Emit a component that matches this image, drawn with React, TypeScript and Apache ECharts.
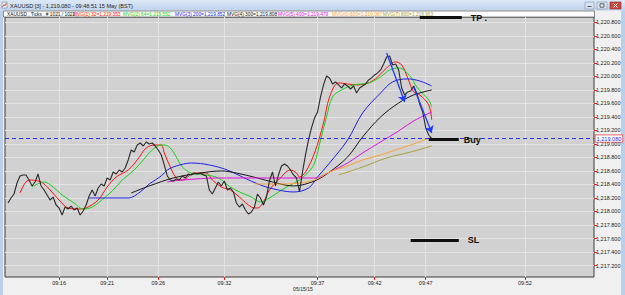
import { useEffect, useRef } from "react";
import * as echarts from "echarts";

// ---------- data ----------
const N_SLOTS = 197; // tick slots across the visible window
const tickSlots = [18, 34, 51, 73, 104, 123, 140, 173];
const tickLabels = ["09:16", "09:21", "09:26", "09:32", "09:37", "09:42", "09:47", "09:52"];
const dateLabel = "05/15/15";
const yTicks = [1217.2, 1217.4, 1217.6, 1217.8, 1218.0, 1218.2, 1218.4, 1218.6, 1218.8, 1219.0, 1219.2, 1219.4, 1219.6, 1219.8, 1220.0, 1220.2, 1220.4, 1220.6, 1220.8];
const yMin = 1217.03;
const yMax = 1220.88;

const titleText = "XAUUSD [3] - 1,219.080 - 09:48:51 15 May (BST)";
const headerLabels = [
  "XAUUSD , Ticks , # 1021 / 1022 ,",
  "MVG(1) 32=1,219.353",
  "MVG(2) 64=1,219.552",
  "MVG(3) 200=1,219.852",
  "MVG(4) 300=1,219.808",
  "MVG(5) 400=1,219.479",
  "MVG(6) 600=1,219.087",
  "MVG(7) 800=1,218.963",
];

const priceStart = 1;
const prices = [
  1218.126, 1218.200, 1218.259, 1218.422, 1218.526, 1218.541, 1218.541, 1218.466, 1218.378, 1218.437,
  1218.555, 1218.378, 1218.318, 1218.244, 1218.170, 1218.214, 1218.096, 1218.052, 1217.948, 1218.066,
  1218.037, 1218.081, 1218.022, 1218.052, 1217.948, 1218.007, 1218.096, 1218.229, 1218.318, 1218.229,
  1218.348, 1218.407, 1218.378, 1218.496, 1218.466, 1218.585, 1218.555, 1218.614, 1218.585, 1218.644,
  1218.763, 1218.911, 1218.881, 1218.985, 1219.014, 1218.970, 1219.029, 1219.000, 1219.014, 1218.970,
  1218.911, 1218.837, 1218.689, 1218.526, 1218.466, 1218.452, 1218.481, 1218.466, 1218.526, 1218.496,
  1218.555, 1218.541, 1218.570, 1218.555, 1218.570, 1218.541, 1218.526, 1218.318, 1218.259, 1218.348,
  1218.437, 1218.378, 1218.452, 1218.318, 1218.348, 1218.289, 1218.126, 1218.066, 1218.111, 1218.022,
  1217.963, 1217.992, 1218.066, 1218.259, 1218.200, 1218.096, 1218.214, 1218.452, 1218.585, 1218.378,
  1218.541, 1218.674, 1218.703, 1218.674, 1218.614, 1218.541, 1218.496, 1218.289, 1218.585, 1218.837,
  1219.059, 1219.237, 1219.385, 1219.474, 1219.696, 1219.874, 1220.007, 1219.978, 1219.889, 1219.918,
  1219.874, 1219.829, 1219.889, 1219.859, 1219.814, 1219.859, 1219.755, 1219.829, 1219.859, 1219.889,
  1219.948, 1219.978, 1220.022, 1220.052, 1220.096, 1220.185, 1220.289, 1220.303, 1220.170, 1220.185,
  1220.096, 1219.829, 1219.726, 1219.770, 1219.785, 1219.859, 1219.755, 1219.592, 1219.474, 1219.237,
  1219.133, 1219.080,
];

const ma32 = [
  [5, 1218.274], [8, 1218.466], [12, 1218.437], [15, 1218.318], [18, 1218.170], [21, 1218.052],
  [25, 1218.037], [27, 1218.052], [31, 1218.170], [34, 1218.363], [37, 1218.511], [41, 1218.614],
  [44, 1218.763], [47, 1218.941], [50, 1218.985], [52, 1218.985], [53, 1218.866], [55, 1218.659],
  [57, 1218.496], [59, 1218.466], [63, 1218.570], [67, 1218.570], [69, 1218.466], [72, 1218.363],
  [75, 1218.318], [78, 1218.214], [82, 1218.066], [84, 1218.052], [86, 1218.141], [88, 1218.318],
  [91, 1218.466], [95, 1218.614], [97, 1218.570], [98, 1218.511], [100, 1218.585], [103, 1218.866],
  [106, 1219.311], [108, 1219.696], [111, 1219.904], [114, 1219.889], [117, 1219.874], [121, 1219.904], [124, 1219.993],
  [127, 1220.126], [130, 1220.215], [132, 1220.170], [134, 1219.978], [136, 1219.770], [138, 1219.726],
  [141, 1219.578], [142, 1219.356],
];
const ma64 = [
  [9, 1218.363], [13, 1218.437], [16, 1218.363], [19, 1218.244], [23, 1218.126], [26, 1218.037],
  [29, 1218.066], [33, 1218.200], [36, 1218.318], [39, 1218.466], [43, 1218.614], [46, 1218.763],
  [49, 1218.911], [52, 1218.985], [53, 1218.985], [55, 1218.941], [57, 1218.807], [59, 1218.659],
  [62, 1218.570], [67, 1218.541], [71, 1218.496], [75, 1218.363], [78, 1218.289], [82, 1218.214],
  [85, 1218.141], [88, 1218.200], [92, 1218.318], [95, 1218.392], [98, 1218.466], [101, 1218.585],
  [103, 1218.718], [105, 1219.059], [107, 1219.400], [109, 1219.696], [112, 1219.800], [116, 1219.874],
  [121, 1219.904], [125, 1219.993], [128, 1220.096], [131, 1220.126], [135, 1219.993], [137, 1219.844],
  [141, 1219.652], [142, 1219.548],
];
const ma200 = [
  [28, 1218.200], [41, 1218.200], [45, 1218.289], [48, 1218.407], [52, 1218.526], [54, 1218.614],
  [57, 1218.674], [62, 1218.718], [68, 1218.689], [74, 1218.614], [79, 1218.511], [85, 1218.392],
  [91, 1218.318], [96, 1218.289], [101, 1218.348], [104, 1218.511], [108, 1218.718], [114, 1219.059],
  [119, 1219.459], [125, 1219.755], [129, 1219.919], [134, 1219.963], [138, 1219.933], [142, 1219.859],
];
const ma300 = [
  [42, 1218.274], [48, 1218.378], [56, 1218.496], [65, 1218.570], [72, 1218.600], [77, 1218.570],
  [84, 1218.496], [89, 1218.437], [96, 1218.378], [103, 1218.452], [108, 1218.585], [114, 1218.807],
  [119, 1219.104], [125, 1219.400], [131, 1219.607], [136, 1219.726], [142, 1219.800],
];
const ma400 = [
  [54, 1218.437], [59, 1218.466], [71, 1218.496], [82, 1218.496], [92, 1218.496], [103, 1218.496],
  [108, 1218.585], [114, 1218.718], [119, 1218.867], [125, 1219.030], [131, 1219.193], [136, 1219.341],
  [142, 1219.474],
];
const ma600 = [
  [83, 1218.407], [92, 1218.407], [98, 1218.422], [103, 1218.466], [108, 1218.585], [114, 1218.674],
  [119, 1218.763], [125, 1218.837], [131, 1218.926], [136, 1219.000], [142, 1219.104],
];
const ma800 = [
  [111, 1218.541], [119, 1218.659], [127, 1218.793], [135, 1218.881], [142, 1218.970],
];

const currentPrice = 1219.08;
const tradeLevels = [
  { name: "TP .", price: 1220.87, from: 138, to: 152 },
  { name: "Buy", price: 1219.065, from: 141, to: 151 },
  { name: "SL", price: 1217.578, from: 135, to: 151 },
];
const arrowSegments = [
  [[127, 1220.348], [133, 1219.622]],
  [[136, 1219.844], [142, 1219.163]],
];

// ---------- styling ----------
const FONT = "'Liberation Sans', Arial, sans-serif";
const maColors = ["#ff1010", "#18d018", "#1f1fe6", "#161616", "#e010e0", "#ffa030", "#a8a038"];
const headerColors = ["#111111", ...maColors];
const headerX = [7, 73, 123, 175, 227, 278, 332, 383];

const fmtPrice = (v: number) => {
  const s = v.toFixed(3);
  return s.slice(0, s.length - 7) + "," + s.slice(s.length - 7);
};

function buildOption() {
  const categories = Array.from({ length: N_SLOTS }, (_, i) => String(i));
  const isTick = (idx: number) => tickSlots.indexOf(idx) >= 0;
  const maSets = [ma32, ma64, ma200, ma300, ma400, ma600, ma800];

  const maSeries = maSets.map((d, k) => ({
    type: "line",
    data: d,
    smooth: 0.35,
    showSymbol: false,
    symbol: "none",
    lineStyle: { color: maColors[k], width: 1 },
    z: 3,
  }));

  const graphic: any[] = [
    {
      type: "rect",
      shape: { x: 0, y: 0, width: 625, height: 10.5 },
      style: {
        fill: new echarts.graphic.LinearGradient(0, 0, 0, 1, [
          { offset: 0, color: "#dde8f6" },
          { offset: 1, color: "#bfd3ec" },
        ]),
      },
      silent: true,
    },
    { type: "rect", shape: { x: 0, y: 10.5, width: 3, height: 284.5 }, style: { fill: "#b9cfea" }, silent: true },
    { type: "rect", shape: { x: 621, y: 10.5, width: 4, height: 284.5 }, style: { fill: "#b9cfea" }, silent: true },
    { type: "rect", shape: { x: 2, y: 2, width: 5, height: 6 }, style: { fill: "#f4f4f4", stroke: "#6a7d96", lineWidth: 0.6 }, silent: true },
    { type: "polyline", shape: { points: [[2.5, 7], [4, 4.5], [5, 6], [6.5, 3]] }, style: { stroke: "#cc2222", lineWidth: 0.7, fill: "none" }, silent: true },
    {
      type: "text",
      x: 10, y: 5.5, scaleX: 0.9,
      style: { text: titleText, fontSize: 6.2, fontFamily: FONT, fill: "#1c1c1c", verticalAlign: "middle" },
      silent: true,
    },
    { type: "rect", shape: { x: 585, y: 2, width: 9, height: 7 }, style: { fill: "#d9e3ef", stroke: "#7f91ab", lineWidth: 0.6 }, silent: true },
    { type: "rect", shape: { x: 597, y: 2, width: 10, height: 7 }, style: { fill: "#d9e3ef", stroke: "#7f91ab", lineWidth: 0.6 }, silent: true },
    { type: "rect", shape: { x: 610, y: 2, width: 11, height: 7 }, style: { fill: "#c94a40", stroke: "#8a2a22", lineWidth: 0.6 }, silent: true },
    { type: "line", shape: { x1: 587.5, y1: 6.5, x2: 591.5, y2: 6.5 }, style: { stroke: "#333", lineWidth: 0.8 }, silent: true },
    { type: "rect", shape: { x: 600, y: 3.8, width: 4, height: 3.4 }, style: { fill: "none", stroke: "#333", lineWidth: 0.7 }, silent: true },
    { type: "line", shape: { x1: 613.5, y1: 3.5, x2: 617.5, y2: 7.5 }, style: { stroke: "#fff", lineWidth: 0.9 }, silent: true },
    { type: "line", shape: { x1: 617.5, y1: 3.5, x2: 613.5, y2: 7.5 }, style: { stroke: "#fff", lineWidth: 0.9 }, silent: true },
    { type: "rect", shape: { x: 3.5, y: 11, width: 591, height: 6 }, style: { fill: "#fdfdfd", stroke: "#444", lineWidth: 0.6 }, silent: true },
    ...headerLabels.map((t, k) => ({
      type: "text",
      x: headerX[k], y: 14.2, scaleX: 0.8,
      style: { text: t, fontSize: 6, fontFamily: FONT, fill: headerColors[k], verticalAlign: "middle" },
      silent: true,
    })),
    {
      type: "text",
      x: 303, y: 289, scaleX: 0.85,
      style: { text: dateLabel, fontSize: 6, fontFamily: FONT, fill: "#222", align: "center", verticalAlign: "middle" },
      silent: true,
    },
  ];

  const markSeries = {
    type: "line",
    data: [],
    z: 5,
    markLine: {
      silent: true,
      animation: false,
      symbol: "none",
      data: [
        [
          { coord: [0, currentPrice] },
          {
            coord: [N_SLOTS - 1, currentPrice],
            label: {
              show: true,
              position: "end",
              formatter: fmtPrice(currentPrice),
              color: "#2a2aff",
              fontSize: 5.6,
              fontFamily: FONT,
              backgroundColor: "#ffffff",
              borderColor: "#e04040",
              borderWidth: 0.8,
              padding: [0.5, 1, 0, 1],
              distance: 1.5,
            },
          },
        ],
        ...tradeLevels.map((t) => [
          { coord: [t.from, t.price] },
          {
            coord: [t.to, t.price],
            lineStyle: { color: "#0e0e0e", width: 3, type: "solid" },
            label: {
              show: true,
              position: "end",
              formatter: t.name,
              color: "#0e0e0e",
              fontSize: 9,
              fontWeight: "bold",
              fontFamily: FONT,
              distance: t.name === "Buy" ? 5 : 9,
            },
          },
        ]),
        ...arrowSegments.map((seg) => [
          { coord: seg[0], symbol: "none" },
          {
            coord: seg[1],
            symbol: "arrow",
            symbolSize: 7,
            lineStyle: { color: "#1f3cff", width: 1.3, type: "solid" },
            label: { show: false },
          },
        ]),
      ],
      lineStyle: { color: "#2a2aff", width: 1, type: [4, 3] },
      label: { show: false },
    },
  };

  return {
    animation: false,
    graphic,
    grid: {
      left: 5,
      top: 17,
      width: 589,
      height: 260,
      show: true,
      backgroundColor: "#d1d1d1",
      borderColor: "#3a3a3a",
      borderWidth: 1,
    },
    xAxis: {
      type: "category",
      data: categories,
      boundaryGap: false,
      axisLine: { show: false },
      axisTick: { show: true, interval: (i: number) => isTick(i), length: 3, lineStyle: { color: "#e02020" } },
      axisLabel: {
        interval: (i: number) => isTick(i),
        formatter: (_v: string, i: number) => tickLabels[tickSlots.indexOf(i)] ?? "",
        fontSize: 5.5,
        fontFamily: FONT,
        color: "#222",
        margin: 3,
      },
      splitLine: { show: true, interval: (i: number) => isTick(i), lineStyle: { color: "#e3e3e3", width: 1 } },
    },
    yAxis: {
      type: "value",
      position: "right",
      min: yMin,
      max: yMax,
      axisLine: { show: false },
      axisTick: { show: true, customValues: yTicks, length: 3, lineStyle: { color: "#e02020" } },
      axisLabel: {
        customValues: yTicks,
        formatter: (v: number) => fmtPrice(v),
        fontSize: 5.5,
        fontFamily: FONT,
        color: "#222",
        margin: 2,
      },
      splitLine: { show: true, lineStyle: { color: "#e3e3e3", width: 1 } },
    },
    series: [
      ...maSeries,
      {
        type: "line",
        data: prices.map((p, k) => [k + priceStart, p]),
        showSymbol: false,
        symbol: "none",
        lineStyle: { color: "#2a2a2a", width: 1.1 },
        z: 4,
      },
      markSeries,
    ],
  };
}

export default function App() {
  const ref = useRef<HTMLDivElement>(null);
  useEffect(() => {
    if (!ref.current) return;
    const chart = echarts.init(ref.current, null, { renderer: "svg" });
    chart.setOption(buildOption() as any);
    return () => chart.dispose();
  }, []);
  return (
    <div
      ref={ref}
      style={{ position: "fixed", left: 0, top: 0, width: 625, height: 295, background: "#f0f0f0" }}
    />
  );
}
